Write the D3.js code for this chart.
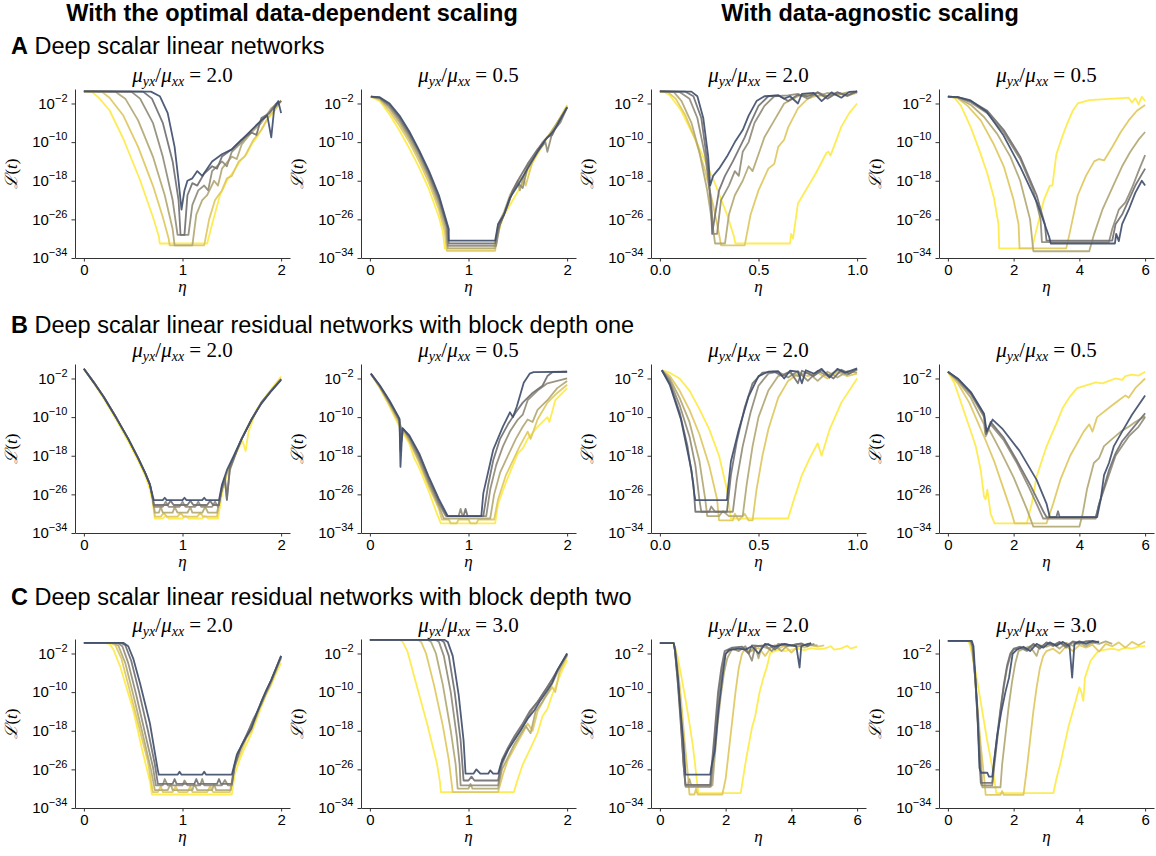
<!DOCTYPE html>
<html>
<head>
<meta charset="utf-8">
<script src="https://cdn.jsdelivr.net/npm/d3@7"></script>
<style>
  body { margin: 0; background: #fff; }
  svg text { font-family: "Liberation Sans", Arial, sans-serif; fill: #000; }
  .math { font-family: "Liberation Serif", "DejaVu Serif", serif; white-space: pre; }
</style>
</head>
<body>
<svg id="fig" width="1156" height="856"></svg>
<script>
// each panel: 6 runs, lightest (yellow) first, darkest last; points are [eta, log10 loss]
const linearOpt2 = [
  [[0,0.5],[0.08,0.45],[0.15,-0.8],[0.26,-3.4],[0.4,-9.3],[0.57,-17.9],[0.7,-25.5],[0.76,-29.5],[0.77,-31],[1.25,-31],[1.3,-27],[1.38,-21],[1.45,-18],[1.52,-16],[1.6,-13.5],[1.65,-12.5],[1.7,-10.5],[1.77,-8.5],[1.85,-5.5],[1.92,-4],[2,-1.3]],
  [[0,0.5],[0.18,0.45],[0.26,-0.8],[0.4,-4.5],[0.55,-11],[0.7,-19],[0.8,-25.5],[0.86,-30],[0.87,-31.4],[1.22,-31.4],[1.27,-26],[1.33,-22],[1.4,-20],[1.45,-17.5],[1.5,-17],[1.57,-14],[1.63,-13],[1.72,-9.5],[1.8,-7.5],[1.88,-4.5],[1.95,-3],[2,-1.5]],
  [[0,0.5],[0.32,0.45],[0.42,-1],[0.55,-5.5],[0.7,-13],[0.82,-21],[0.9,-28],[0.92,-31.4],[1.1,-31.4],[1.14,-25],[1.2,-22],[1.25,-21],[1.32,-18],[1.36,-19],[1.4,-15.5],[1.5,-13],[1.55,-13.5],[1.6,-10.5],[1.7,-8],[1.8,-6],[1.9,-3],[2,-1.5]],
  [[0,0.5],[0.48,0.45],[0.57,-1],[0.7,-6],[0.8,-13],[0.9,-22],[0.95,-29.2],[1.06,-29.2],[1.1,-23],[1.16,-20],[1.22,-19],[1.26,-20],[1.3,-16],[1.4,-14],[1.45,-15],[1.5,-12],[1.6,-10],[1.7,-7.5],[1.8,-5.5],[1.9,-3.5],[2,-1.5]],
  [[0,0.5],[0.6,0.45],[0.69,-1],[0.8,-6],[0.9,-14],[0.96,-22],[0.98,-29.2],[1.02,-29.2],[1.05,-21],[1.1,-18.5],[1.15,-19],[1.22,-16.5],[1.3,-15],[1.35,-15.5],[1.4,-13],[1.5,-11.5],[1.6,-9.5],[1.7,-8],[1.75,-8.5],[1.8,-5],[1.88,-4],[1.95,-2],[2,-1.5]],
  [[0,0.5],[0.68,0.45],[0.77,-0.5],[0.85,-4],[0.92,-11],[0.96,-18],[0.99,-24],[1.02,-20],[1.05,-18],[1.1,-17.5],[1.15,-16],[1.2,-17],[1.3,-14],[1.4,-12.5],[1.5,-11.5],[1.6,-9.5],[1.7,-7.5],[1.8,-5.5],[1.86,-4.5],[1.9,-9],[1.93,-3],[1.97,-1.5],[2,-4]]
];

const linearOpt05 = [
  [[0.01,-0.6],[0.1,-1.5],[0.2,-4.3],[0.3,-7.6],[0.4,-11.3],[0.5,-15.3],[0.6,-19.8],[0.7,-25.5],[0.74,-28.5],[0.76,-32],[1.25,-32],[1.3,-29],[1.35,-25.5],[1.45,-22],[1.55,-18.5],[1.6,-16],[1.7,-12.5],[1.8,-9],[1.9,-6],[2,-2.3]],
  [[0.01,-0.6],[0.1,-1.2],[0.2,-3.6],[0.3,-6.6],[0.4,-10],[0.5,-14],[0.6,-18.5],[0.7,-24],[0.76,-28.5],[0.78,-32.5],[1.27,-32.5],[1.3,-28],[1.38,-24],[1.45,-20],[1.55,-17],[1.58,-19],[1.65,-14],[1.75,-10.5],[1.85,-7.5],[1.93,-5],[2,-2.5]],
  [[0.01,-0.6],[0.1,-1],[0.2,-3],[0.3,-5.9],[0.4,-9.3],[0.5,-13.2],[0.6,-17.6],[0.7,-23],[0.77,-28],[0.79,-32],[1.27,-32],[1.3,-27],[1.36,-24.5],[1.42,-21],[1.5,-18],[1.52,-20],[1.58,-15.5],[1.65,-13.5],[1.75,-10],[1.82,-8.5],[1.9,-6],[2,-2.7]],
  [[0.01,-0.6],[0.1,-0.9],[0.2,-2.6],[0.3,-5.3],[0.4,-8.7],[0.5,-12.5],[0.6,-17],[0.7,-22.2],[0.78,-27.5],[0.79,-31.5],[1.28,-31.5],[1.32,-27],[1.4,-23],[1.45,-20],[1.5,-18.5],[1.55,-19.5],[1.6,-15],[1.7,-12],[1.78,-10],[1.8,-12],[1.85,-8],[1.93,-6],[2,-2.8]],
  [[0.01,-0.6],[0.1,-0.8],[0.2,-2.3],[0.3,-4.9],[0.4,-8.2],[0.5,-12],[0.6,-16.5],[0.7,-21.6],[0.79,-28],[0.8,-31],[1.27,-31],[1.3,-28],[1.36,-25],[1.45,-20],[1.5,-18],[1.6,-14.5],[1.7,-11.5],[1.8,-9],[1.85,-8.5],[1.92,-5.5],[2,-2.8]],
  [[0.01,-0.6],[0.1,-0.7],[0.2,-2],[0.3,-4.5],[0.4,-7.8],[0.5,-11.7],[0.6,-16],[0.7,-21],[0.8,-28],[0.8,-30.4],[1.27,-30.4],[1.3,-27],[1.36,-25],[1.42,-21.5],[1.5,-19],[1.6,-15.5],[1.7,-12],[1.78,-9.5],[1.85,-8],[1.9,-6.5],[2,-2.8]]
];

const linearAgn2 = [
  [[0,0.5],[0.02,0.45],[0.05,-0.3],[0.107,-3.4],[0.19,-10.3],[0.28,-18.6],[0.345,-25.5],[0.375,-29.5],[0.383,-31],[0.66,-31],[0.665,-29],[0.675,-30],[0.7,-22.7],[0.79,-16.5],[0.845,-12.2],[0.855,-12],[0.865,-12.8],[0.92,-6.8],[0.96,-4],[1,-2]],
  [[0,0.5],[0.04,0.4],[0.08,-1],[0.13,-4.5],[0.18,-9.5],[0.23,-16],[0.27,-23],[0.3,-29],[0.31,-31.4],[0.43,-31.4],[0.46,-25],[0.5,-20],[0.55,-15.5],[0.58,-14.5],[0.6,-11],[0.63,-9.5],[0.65,-7],[0.7,-3],[0.75,-1],[0.8,-0.3],[0.85,-0.5],[0.9,0],[0.95,-0.3],[1,0.2]],
  [[0,0.5],[0.07,0.4],[0.11,-1.5],[0.16,-6],[0.2,-12],[0.24,-20],[0.27,-28],[0.28,-31],[0.33,-31],[0.35,-25],[0.38,-21],[0.42,-18],[0.45,-15],[0.47,-16],[0.5,-12.5],[0.53,-9],[0.58,-5.5],[0.63,-2],[0.7,-0.5],[0.75,0],[0.8,-0.5],[0.85,0.2],[0.9,-0.2],[0.95,0.3],[1,0.3]],
  [[0,0.5],[0.1,0.4],[0.15,-1],[0.19,-5],[0.23,-13],[0.26,-22],[0.27,-29],[0.29,-29],[0.31,-22],[0.35,-19],[0.38,-16],[0.4,-17],[0.42,-12],[0.45,-10],[0.48,-6],[0.53,-2.5],[0.58,-0.5],[0.65,-0.3],[0.7,0],[0.75,-1],[0.8,0.3],[0.85,-0.5],[0.9,0.3],[0.95,-0.5],[1,0.5]],
  [[0,0.5],[0.13,0.45],[0.17,-0.5],[0.21,-5],[0.24,-14],[0.26,-24],[0.265,-29],[0.28,-25],[0.3,-20],[0.33,-17],[0.37,-14],[0.4,-11.5],[0.43,-9],[0.46,-6],[0.5,-2.5],[0.55,-0.5],[0.6,-0.3],[0.65,-1.5],[0.7,-0.2],[0.75,-0.5],[0.8,0.3],[0.85,-1],[0.9,0.3],[0.95,-0.3],[1,0.5]],
  [[0,0.5],[0.16,0.45],[0.19,-0.5],[0.22,-5],[0.245,-13],[0.255,-19],[0.27,-17],[0.3,-15.5],[0.34,-13],[0.38,-10],[0.42,-7.5],[0.45,-4.5],[0.49,-1.5],[0.53,-0.5],[0.6,-0.3],[0.63,-1],[0.66,-0.5],[0.7,-2],[0.72,0],[0.78,0.2],[0.82,-1.5],[0.87,0.3],[0.92,-0.8],[0.96,0.4],[1,0.5]]
];

const linearAgn05 = [
  [[0,-0.6],[0.2,-0.8],[0.4,-2.5],[0.7,-7],[1,-12.5],[1.2,-16.5],[1.4,-21.5],[1.54,-27],[1.56,-32],[2.56,-32],[2.7,-28],[2.92,-22],[3.1,-19],[3.18,-19],[3.3,-12.5],[3.5,-8.5],[3.64,-6],[3.8,-3.5],[3.95,-2],[4.3,-1.3],[4.8,-1.1],[5.3,-0.9],[5.5,-0.8],[5.6,-1.8],[5.7,-0.9],[5.8,-2.2],[5.9,-0.6],[6,-1.5]],
  [[0,-0.6],[0.3,-0.9],[0.6,-2.5],[1,-5.5],[1.4,-10.5],[1.7,-15],[2,-22],[2.15,-27],[2.18,-32],[3.6,-32],[3.7,-29],[3.95,-21],[4.2,-17],[4.45,-14],[4.6,-13.5],[4.75,-13.8],[5,-11],[5.25,-8],[5.5,-5.5],[5.75,-3.5],[6,-2.3]],
  [[0,-0.6],[0.3,-0.8],[0.7,-2.3],[1.1,-4.8],[1.5,-8.3],[1.9,-13],[2.2,-18],[2.5,-26],[2.6,-32.6],[4.3,-32.6],[4.45,-29],[4.7,-24],[4.9,-21],[5.1,-18],[5.3,-15],[5.55,-12],[5.8,-9.5],[6,-7.9]],
  [[0,-0.6],[0.3,-0.7],[0.7,-1.8],[1.2,-4],[1.7,-8],[2.2,-13.5],[2.6,-20],[2.82,-26],[2.86,-30.7],[4.9,-30.7],[5,-28],[5.2,-24],[5.4,-22.5],[5.6,-19.5],[5.8,-16],[6,-12.7]],
  [[0,-0.6],[0.3,-0.7],[0.7,-1.5],[1.2,-3.5],[1.7,-7.5],[2.2,-13],[2.7,-21],[2.95,-27],[3,-30.4],[5,-30.4],[5.1,-27],[5.3,-25],[5.5,-22],[5.7,-19],[6,-15.5]],
  [[0,-0.6],[0.3,-0.7],[0.67,-1.3],[1.18,-3.7],[1.69,-8.6],[2.2,-15.1],[2.72,-22.7],[3.08,-29.6],[3.13,-31],[5.08,-31],[5.12,-29],[5.2,-30.5],[5.3,-27],[5.5,-24],[5.7,-20.5],[5.9,-18],[6,-19]]
];

const res1Opt2 = [
  [[0,0],[0.1,-3],[0.2,-6.1],[0.33,-10.6],[0.45,-15],[0.55,-19],[0.62,-22],[0.67,-25],[0.7,-28],[0.72,-31],[0.8,-31],[0.83,-30.4],[0.86,-31],[1,-31],[1.03,-30.4],[1.06,-31],[1.2,-31],[1.23,-30.4],[1.26,-31],[1.36,-31],[1.4,-26],[1.45,-22],[1.52,-18.5],[1.58,-16],[1.61,-15],[1.64,-17],[1.67,-13],[1.75,-8.5],[1.85,-5.5],[2,-1.6]],
  [[0,0],[0.1,-2.8],[0.2,-5.8],[0.33,-10.2],[0.45,-14.5],[0.55,-18.5],[0.62,-21.5],[0.67,-24],[0.7,-27],[0.72,-30.6],[0.78,-30.6],[0.81,-29.8],[0.84,-30.6],[0.95,-30.6],[0.98,-29.8],[1.01,-30.6],[1.15,-30.6],[1.18,-29.8],[1.21,-30.6],[1.35,-30.6],[1.39,-25.5],[1.45,-21.5],[1.52,-18.3],[1.6,-14.5],[1.7,-10.5],[1.8,-7],[1.9,-4.5],[2,-2]],
  [[0,0],[0.1,-2.8],[0.2,-5.8],[0.33,-10.2],[0.45,-14.5],[0.55,-18.5],[0.62,-21.5],[0.67,-24],[0.7,-27],[0.72,-29.8],[0.76,-29.8],[0.78,-28.6],[0.8,-29.8],[0.9,-29.8],[0.92,-28.6],[0.95,-29.8],[1.05,-29.8],[1.08,-28.6],[1.1,-29.8],[1.2,-29.8],[1.23,-28.6],[1.26,-29.8],[1.35,-29.8],[1.4,-25],[1.45,-21.5],[1.52,-18.3],[1.6,-14.5],[1.7,-10.5],[1.8,-7],[1.9,-4.5],[2,-2.1]],
  [[0,0],[0.1,-2.8],[0.2,-5.8],[0.33,-10.2],[0.45,-14.5],[0.55,-18.5],[0.62,-21.5],[0.67,-24],[0.7,-27],[0.71,-28.6],[0.8,-28.6],[0.83,-27.5],[0.86,-28.6],[0.97,-28.6],[1,-27.5],[1.03,-28.6],[1.13,-28.6],[1.16,-27.5],[1.19,-28.6],[1.3,-28.6],[1.33,-27.5],[1.36,-28.6],[1.4,-25],[1.43,-23],[1.45,-27],[1.48,-21],[1.55,-17],[1.6,-14.5],[1.7,-10.5],[1.8,-7],[1.9,-4.5],[2,-2.1]],
  [[0,0],[0.1,-2.8],[0.2,-5.8],[0.33,-10.2],[0.45,-14.5],[0.55,-18.5],[0.62,-21.5],[0.67,-24],[0.7,-27],[0.71,-28.2],[0.85,-28.2],[0.88,-27.3],[0.91,-28.2],[1.05,-28.2],[1.08,-27.3],[1.11,-28.2],[1.25,-28.2],[1.28,-27.3],[1.31,-28.2],[1.37,-28.2],[1.4,-24.5],[1.43,-22.5],[1.45,-27.2],[1.48,-20.5],[1.55,-17],[1.6,-14.5],[1.7,-10.5],[1.8,-7],[1.9,-4.5],[2,-2.2]],
  [[0,0],[0.1,-2.8],[0.2,-5.8],[0.33,-10.2],[0.45,-14.5],[0.55,-18.5],[0.62,-21.5],[0.67,-24],[0.7,-26.5],[0.71,-27.2],[0.8,-27.2],[0.82,-26.7],[0.84,-27.2],[1,-27.2],[1.02,-26.7],[1.04,-27.2],[1.2,-27.2],[1.22,-26.7],[1.24,-27.2],[1.37,-27.2],[1.4,-24],[1.45,-21],[1.52,-18],[1.6,-14.5],[1.7,-10.5],[1.8,-7.2],[1.9,-4.6],[2,-2.3]]
];

const res1Opt05 = [
  [[0.01,-1],[0.1,-4],[0.2,-7.8],[0.3,-12],[0.4,-15.5],[0.45,-18.5],[0.5,-20.5],[0.6,-25.5],[0.68,-30],[0.72,-32],[1.27,-32],[1.3,-28],[1.38,-23.5],[1.5,-17.5],[1.55,-16.5],[1.6,-14.5],[1.7,-12],[1.8,-10],[1.82,-11],[1.88,-6.5],[2,-4]],
  [[0.01,-1],[0.1,-3.8],[0.2,-7.5],[0.3,-11.5],[0.34,-13],[0.4,-15],[0.5,-19.5],[0.6,-24.5],[0.7,-29],[0.73,-31.2],[0.8,-31.2],[0.82,-32],[0.88,-32],[0.9,-31.2],[1,-31.2],[1.02,-32],[1.08,-32],[1.1,-31.2],[1.26,-31.2],[1.3,-27],[1.38,-22],[1.45,-19],[1.52,-16],[1.6,-13],[1.63,-14.5],[1.7,-10.5],[1.8,-7],[1.9,-5],[2,-3.3]],
  [[0.01,-1],[0.1,-3.7],[0.2,-7.2],[0.3,-11],[0.33,-13],[0.35,-12.8],[0.4,-14.7],[0.5,-19],[0.6,-24],[0.7,-28.5],[0.75,-31],[1.22,-31],[1.26,-26],[1.32,-21.5],[1.4,-18],[1.48,-14.5],[1.55,-12],[1.6,-10.5],[1.65,-11],[1.7,-8.5],[1.8,-6.5],[1.9,-4],[2,-2.5]],
  [[0.01,-1],[0.1,-3.6],[0.2,-7],[0.3,-10.8],[0.32,-15],[0.34,-12.5],[0.4,-14.3],[0.5,-18.5],[0.6,-23.5],[0.7,-28],[0.77,-30.5],[0.9,-30.5],[0.92,-29],[0.94,-30.5],[1.18,-30.5],[1.22,-25],[1.28,-20],[1.35,-16],[1.42,-13],[1.5,-10.5],[1.55,-9.5],[1.6,-6.5],[1.7,-4.5],[1.8,-3],[1.9,-2.5],[2,-2]],
  [[0.01,-1],[0.1,-3.5],[0.2,-6.8],[0.3,-10.5],[0.31,-17],[0.33,-12.3],[0.4,-14],[0.5,-18],[0.6,-23],[0.7,-27.5],[0.78,-30.5],[0.95,-30.5],[0.97,-29],[0.99,-30.5],[1.15,-30.5],[1.2,-24],[1.25,-19],[1.32,-14.5],[1.4,-11.5],[1.48,-9],[1.55,-7],[1.65,-5],[1.75,-3.5],[1.8,-1.5],[1.85,-0.7],[2,-0.6]],
  [[0.01,-1],[0.1,-3.4],[0.2,-6.6],[0.3,-10.3],[0.31,-20.3],[0.33,-12.3],[0.4,-13.8],[0.5,-17.5],[0.6,-22.5],[0.7,-27],[0.79,-30.5],[1.13,-30.5],[1.15,-25.8],[1.25,-16.8],[1.35,-11.9],[1.42,-9],[1.45,-10],[1.49,-7.8],[1.56,-2.9],[1.62,-1],[1.66,-0.7],[2,-0.6]]
];

const res1Agn2 = [
  [[0.01,-0.3],[0.05,-0.8],[0.1,-2],[0.15,-4.5],[0.2,-8.3],[0.25,-12.5],[0.3,-18],[0.34,-25],[0.36,-31],[0.65,-31],[0.68,-27],[0.72,-22],[0.76,-18.5],[0.8,-15.4],[0.82,-18],[0.86,-12.6],[0.92,-7],[1,-2]],
  [[0.01,-0.3],[0.05,-1.5],[0.1,-4.5],[0.15,-8.5],[0.2,-13.5],[0.25,-20],[0.29,-27],[0.3,-31.4],[0.37,-31.4],[0.38,-30],[0.4,-31.4],[0.43,-30],[0.45,-31.4],[0.47,-31.4],[0.49,-25],[0.52,-18],[0.55,-12.5],[0.6,-6],[0.65,-2.5],[0.7,-1],[0.75,-1.5],[0.8,-0.8],[0.85,-2],[0.9,-0.7],[0.95,-1.5],[1,-1]],
  [[0.01,-0.3],[0.05,-2],[0.1,-6],[0.15,-11],[0.2,-19],[0.23,-27],[0.24,-30.5],[0.3,-30.5],[0.32,-29.5],[0.35,-30.5],[0.42,-30.5],[0.44,-24],[0.47,-16],[0.5,-10],[0.55,-4.5],[0.6,-1.5],[0.65,-0.8],[0.7,-1.5],[0.75,-0.7],[0.8,-2.5],[0.85,-0.6],[0.9,-1.8],[0.95,-0.5],[1,-0.8]],
  [[0.01,-0.3],[0.05,-2.5],[0.1,-7.5],[0.15,-14],[0.18,-20],[0.2,-27],[0.21,-29.6],[0.25,-29.6],[0.26,-28.5],[0.28,-29.6],[0.37,-29.6],[0.39,-23],[0.42,-16],[0.46,-9],[0.5,-3.5],[0.55,-1],[0.6,-0.6],[0.65,-1.8],[0.7,-0.5],[0.75,-2.5],[0.8,-0.4],[0.85,-1.5],[0.9,-0.3],[0.95,-1.2],[1,-0.2]],
  [[0.01,-0.3],[0.05,-3],[0.1,-9],[0.14,-16],[0.17,-24],[0.18,-29.6],[0.34,-29.6],[0.36,-22],[0.39,-15],[0.43,-8],[0.47,-3],[0.52,-0.8],[0.58,-0.6],[0.62,-1.5],[0.66,-0.5],[0.7,-3],[0.72,-0.4],[0.78,-1.5],[0.82,-0.3],[0.88,-2],[0.92,-0.2],[0.96,-1],[1,0]],
  [[0.01,-0.3],[0.05,-3.3],[0.107,-10.5],[0.16,-21],[0.175,-26],[0.18,-27.2],[0.34,-27.2],[0.345,-25],[0.36,-19.2],[0.4,-12.6],[0.45,-5.7],[0.5,-1.5],[0.55,-0.6],[0.6,-0.5],[0.63,-2],[0.66,-0.4],[0.7,-0.6],[0.72,-3],[0.74,-0.3],[0.78,-1],[0.82,0],[0.86,-1.8],[0.9,0],[0.94,-0.8],[1,0.1]]
];

const res1Agn05 = [
  [[0,-0.6],[0.2,-3],[0.44,-7.8],[0.65,-12],[0.85,-16.1],[1,-21],[1.1,-26.5],[1.15,-27],[1.2,-25],[1.3,-30],[1.42,-32],[2.4,-32],[2.55,-28],[2.7,-22.3],[3,-16.1],[3.1,-14.5],[3.31,-11.2],[3.5,-8],[3.72,-5.7],[3.93,-4],[4.13,-3.6],[4.5,-2.8],[4.7,-3],[4.9,-2.5],[5.1,-2],[5.3,-2.3],[5.4,-1.5],[5.6,-1.2],[5.8,-1.4],[6,-0.6]],
  [[0,-0.6],[0.3,-3],[0.65,-7],[1.16,-15],[1.4,-19],[1.67,-24.4],[1.9,-29],[2.03,-32],[3,-32],[3.2,-28],[3.42,-23],[3.72,-18],[4.13,-13],[4.3,-11.5],[4.4,-13],[4.54,-10],[4.95,-7.8],[5.2,-6.5],[5.4,-5.5],[5.5,-6],[5.7,-4],[6,-2]],
  [[0,-0.6],[0.3,-2.5],[0.7,-6],[1.1,-11.5],[1.15,-14],[1.25,-12.5],[1.6,-17],[2,-22.5],[2.4,-29],[2.6,-32.7],[4,-32.7],[4.1,-30],[4.23,-25],[4.44,-19.5],[4.6,-18.5],[4.75,-16],[5,-14.5],[5.26,-13],[5.5,-12],[5.7,-11],[6,-9.8]],
  [[0,-0.6],[0.3,-2.3],[0.7,-5.3],[1.1,-10],[1.15,-13.5],[1.3,-11.5],[1.7,-14.8],[2.1,-19.5],[2.5,-25],[2.8,-29.5],[2.9,-31],[4.5,-31],[4.6,-28],[4.75,-25],[4.9,-22],[5.1,-18],[5.3,-16],[5.5,-14],[5.8,-12],[6,-10]],
  [[0,-0.6],[0.3,-2.1],[0.7,-5],[1.1,-9.5],[1.17,-13.5],[1.3,-11],[1.7,-14.3],[2.1,-19],[2.5,-24],[2.9,-29.5],[3,-30.7],[3.3,-30.7],[3.35,-29.5],[3.4,-30.7],[4.5,-30.7],[4.6,-28],[4.75,-24.5],[4.9,-21],[5.1,-17.5],[5.3,-15],[5.6,-12.5],[6,-9.2]],
  [[0,-0.6],[0.3,-2],[0.7,-4.8],[1.1,-9.3],[1.18,-13],[1.36,-10.5],[1.67,-12.5],[2.18,-17],[2.7,-23],[3,-27.9],[3.1,-30.7],[4.54,-30.7],[4.65,-27],[4.75,-22],[4.9,-19.5],[5.05,-16],[5.3,-13],[5.6,-9.5],[6,-5.5]]
];

const res2Opt2 = [
  [[0,0.2],[0.2,0.2],[0.26,0],[0.3,-1.2],[0.37,-4.8],[0.5,-13.7],[0.6,-22.7],[0.67,-28.5],[0.69,-31.2],[1.5,-31.2],[1.53,-27],[1.58,-24],[1.62,-22],[1.7,-18.5],[1.8,-13],[1.85,-10.5],[1.9,-8.5],[1.95,-6],[2,-4]],
  [[0,0.2],[0.27,0.2],[0.32,-0.3],[0.38,-3],[0.45,-8.5],[0.55,-16.5],[0.65,-24.5],[0.7,-30.7],[0.75,-30.7],[0.78,-29.5],[0.8,-30.7],[0.9,-30.7],[0.93,-29.5],[0.96,-30.7],[1.05,-30.7],[1.08,-29.5],[1.1,-30.7],[1.25,-30.7],[1.28,-29.5],[1.31,-30.7],[1.48,-30.7],[1.52,-26],[1.58,-23],[1.65,-19.5],[1.7,-18],[1.78,-13.5],[1.85,-10],[1.92,-6.5],[2,-3]],
  [[0,0.2],[0.3,0.2],[0.35,-0.4],[0.42,-4],[0.5,-10.5],[0.6,-19],[0.68,-26],[0.72,-30.3],[0.85,-30.3],[0.88,-29],[0.9,-30.3],[1.1,-30.3],[1.12,-29],[1.15,-30.3],[1.3,-30.3],[1.32,-29],[1.34,-30.3],[1.49,-30.3],[1.52,-26],[1.56,-22.5],[1.62,-20.5],[1.7,-17],[1.75,-15],[1.8,-12],[1.88,-9],[1.95,-5.5],[2,-2.8]],
  [[0,0.2],[0.34,0.2],[0.39,-0.5],[0.45,-4],[0.53,-10.5],[0.62,-18.5],[0.7,-25.5],[0.73,-29.3],[0.8,-29.3],[0.82,-28],[0.85,-29.3],[1,-29.3],[1.02,-28.3],[1.05,-29.3],[1.18,-29.3],[1.2,-28],[1.22,-29.3],[1.4,-29.3],[1.43,-28.2],[1.46,-29.3],[1.5,-29.3],[1.53,-25.5],[1.58,-22],[1.65,-19],[1.72,-15.5],[1.8,-12.5],[1.88,-8.5],[1.95,-5],[2,-2.6]],
  [[0,0.2],[0.38,0.2],[0.42,-0.3],[0.48,-3.5],[0.56,-10],[0.65,-18],[0.72,-25],[0.75,-29],[0.9,-29],[0.92,-28],[0.94,-29],[1.12,-29],[1.14,-28],[1.16,-29],[1.35,-29],[1.37,-28],[1.39,-29],[1.5,-29],[1.53,-25],[1.6,-21],[1.67,-18],[1.75,-14.5],[1.82,-11],[1.9,-7.5],[2,-2.5]],
  [[0,0.2],[0.4,0.2],[0.45,-0.5],[0.5,-3],[0.57,-8.2],[0.67,-16.5],[0.75,-26.2],[0.76,-27.1],[0.95,-27.1],[0.97,-26.5],[0.99,-27.1],[1.2,-27.1],[1.22,-26.5],[1.24,-27.1],[1.5,-27.1],[1.52,-25.5],[1.55,-23],[1.6,-21],[1.64,-19.5],[1.7,-17.5],[1.75,-14.5],[1.8,-12],[1.85,-9.6],[1.9,-7.5],[1.95,-5],[2,-2.5]]
];

const res2Opt3 = [
  [[0,0.8],[0.3,0.8],[0.33,0.5],[0.38,-1.5],[0.45,-6.8],[0.58,-16.5],[0.68,-24.8],[0.71,-28.5],[0.72,-30.7],[1.46,-30.7],[1.5,-28],[1.55,-25],[1.62,-22],[1.7,-18.5],[1.75,-15],[1.8,-13.5],[1.85,-10.5],[1.9,-8],[1.95,-5.5],[2,-3.4]],
  [[0,0.8],[0.49,0.8],[0.52,0.4],[0.57,-2],[0.65,-8.5],[0.74,-17],[0.8,-24],[0.84,-30.7],[1.3,-30.7],[1.35,-27],[1.4,-24],[1.48,-21],[1.55,-18.5],[1.6,-16.5],[1.65,-18],[1.7,-14],[1.78,-11],[1.85,-9],[1.88,-10],[1.92,-6],[2,-2.5]],
  [[0,0.8],[0.59,0.8],[0.62,0.4],[0.67,-2],[0.74,-8.5],[0.82,-18],[0.87,-25],[0.89,-30],[1,-30],[1.02,-29],[1.04,-30],[1.3,-30],[1.34,-26],[1.4,-23.5],[1.46,-21],[1.52,-19],[1.58,-17],[1.63,-18.5],[1.68,-14],[1.75,-12],[1.82,-9.5],[1.9,-6],[2,-2.3]],
  [[0,0.8],[0.67,0.8],[0.7,0.4],[0.75,-2.5],[0.82,-10],[0.88,-19],[0.91,-25],[0.92,-29.3],[1.3,-29.3],[1.34,-25],[1.4,-22],[1.45,-20],[1.52,-18],[1.58,-16],[1.65,-13.5],[1.72,-11.5],[1.8,-9],[1.9,-5.5],[2,-2.2]],
  [[0,0.8],[0.72,0.8],[0.75,0.4],[0.8,-2.5],[0.86,-10],[0.92,-20],[0.95,-28.3],[1,-28.3],[1.03,-27.5],[1.06,-28.3],[1.3,-28.3],[1.34,-24],[1.4,-21.5],[1.47,-19],[1.55,-16.5],[1.62,-14],[1.7,-12],[1.78,-9.5],[1.86,-7],[1.93,-4.5],[2,-2]],
  [[0,0.8],[0.76,0.8],[0.79,0.4],[0.84,-2.5],[0.9,-10.5],[0.95,-20],[0.97,-26.9],[1.05,-26.9],[1.08,-26],[1.12,-26.9],[1.2,-26.9],[1.22,-26.2],[1.25,-26.9],[1.3,-26.9],[1.33,-24.8],[1.4,-22],[1.53,-17.9],[1.6,-15.5],[1.67,-13.7],[1.72,-12],[1.8,-9.6],[1.85,-8],[1.9,-5.5],[2,-2]]
];

const res2Agn2 = [
  [[0,0.15],[0.4,0.15],[0.45,-0.5],[0.55,-3],[0.66,-7],[0.78,-11.5],[0.89,-16],[1,-21],[1.06,-24.3],[1.12,-28],[1.17,-30.9],[2.46,-30.9],[2.55,-27],[2.63,-23.6],[2.8,-17.4],[2.9,-15],[3.02,-10.4],[3.15,-7],[3.25,-4.9],[3.36,-1.8],[3.6,-1.3],[3.8,-1.5],[4,-1.2],[4.2,-1],[4.4,-1.3],[4.6,-0.9],[4.8,-1.1],[5,-1],[5.2,-0.5],[5.3,-1.2],[5.5,-1],[5.7,-0.4],[5.8,-1],[6,-0.6]],
  [[0,0.15],[0.42,0.15],[0.47,-1],[0.55,-5],[0.65,-12],[0.75,-20],[0.85,-27],[0.9,-31.2],[1.05,-31.2],[1.1,-30],[1.15,-31.2],[1.9,-31.2],[2,-28],[2.1,-22],[2.2,-16],[2.3,-10],[2.4,-5],[2.5,-2],[2.6,-1],[2.8,-1.5],[3,-0.8],[3.2,-2.5],[3.4,-0.6],[3.6,-1],[3.8,-0.4],[4,-1.8],[4.2,-0.5],[4.4,-0.8],[4.6,-0.3],[4.8,-0.6],[5,-0.3]],
  [[0,0.15],[0.42,0.15],[0.47,-1.5],[0.55,-7],[0.65,-16],[0.72,-24],[0.78,-29.3],[0.85,-29.3],[0.9,-28],[0.95,-29.3],[1.6,-29.3],[1.65,-25],[1.75,-17],[1.85,-11],[1.95,-6],[2.05,-3],[2.2,-1],[2.5,-0.8],[2.7,-2],[2.9,-0.5],[3,-3],[3.1,-0.5],[3.3,-1],[3.5,-0.3],[3.7,-1.5],[3.9,-0.2],[4.2,-0.5],[4.5,-0.2],[4.8,-0.3]],
  [[0,0.15],[0.42,0.15],[0.46,-1.5],[0.55,-8],[0.65,-17],[0.72,-25],[0.78,-29.6],[1.55,-29.6],[1.6,-26],[1.7,-17],[1.8,-10],[1.9,-5],[2,-2],[2.2,-1],[2.4,-1.5],[2.6,-0.5],[2.8,-3.5],[2.9,-0.5],[3.2,-0.3],[3.4,-1.5],[3.6,0],[3.9,-0.5],[4.2,0],[4.5,-0.4],[4.7,0]],
  [[0,0.15],[0.42,0.15],[0.46,-1.5],[0.55,-8.5],[0.65,-18],[0.72,-25],[0.78,-29.2],[1.53,-29.2],[1.58,-25],[1.67,-18],[1.77,-10],[1.87,-5],[1.97,-1.5],[2.2,-0.8],[2.5,-0.6],[2.7,-2],[2.8,-0.3],[3.1,-0.5],[3.3,0],[3.5,-1.2],[3.7,0],[4,-0.3],[4.3,0.1],[4.5,-0.5],[4.6,0.2]],
  [[0,0.15],[0.42,0.15],[0.46,-1.2],[0.55,-7],[0.63,-14],[0.72,-20.7],[0.78,-27.1],[1.53,-27.1],[1.58,-25],[1.67,-22.2],[1.78,-13.9],[1.9,-7],[2,-2.1],[2.1,-1.3],[2.4,-1],[2.6,-1.2],[2.8,-0.5],[3,-2],[3.2,0],[3.5,-0.6],[3.8,0],[4,-0.3],[4.15,-0.5],[4.25,-4.9],[4.3,-0.5],[4.5,0],[4.6,0.1]]
];

const res2Agn3 = [
  [[0,0.6],[0.6,0.6],[0.66,0],[0.75,-2.5],[0.85,-6],[0.96,-10.4],[1.18,-19.4],[1.41,-27.8],[1.47,-30.9],[3.21,-30.9],[3.3,-28],[3.44,-24.3],[3.66,-17.4],[3.89,-11.8],[4,-9],[4.06,-10],[4.12,-11.8],[4.17,-7],[4.34,-3.5],[4.57,-1.5],[4.8,-1.2],[5,-1],[5.2,-1.3],[5.4,-0.8],[5.6,-1],[5.8,-0.6],[6,-0.5]],
  [[0,0.6],[0.65,0.6],[0.72,-0.5],[0.8,-5],[0.9,-13],[1,-21],[1.1,-27.5],[1.15,-31.3],[1.6,-31.3],[1.65,-30.5],[1.7,-31.3],[2.3,-31.3],[2.4,-26],[2.5,-20],[2.6,-14],[2.7,-9],[2.8,-5],[2.9,-2.5],[3,-1.5],[3.2,-1],[3.4,-2],[3.6,-0.5],[3.8,-1.5],[4,-0.3],[4.2,-0.8],[4.4,-0.2],[4.6,-1.6],[4.8,0],[5,-0.5],[5.2,0.3],[5.4,-0.8],[5.6,0.4],[5.8,-0.3],[6,0.5]],
  [[0,0.6],[0.68,0.6],[0.74,-0.5],[0.82,-6],[0.92,-16],[1,-24],[1.05,-29.7],[1.6,-29.7],[1.65,-25],[1.75,-19],[1.85,-13],[1.95,-8],[2.05,-4],[2.15,-1.5],[2.3,-1],[2.5,-0.5],[2.7,-2.5],[2.8,-0.3],[3,-0.6],[3.2,0],[3.4,-1],[3.6,0.2],[3.8,-0.4],[4,0.3],[4.2,-0.5],[4.4,0.3],[4.6,0],[4.8,0.5],[5,0]],
  [[0,0.6],[0.7,0.6],[0.75,-0.5],[0.83,-7],[0.92,-17],[0.98,-25],[1.02,-29.3],[1.35,-29.3],[1.4,-26],[1.5,-20],[1.6,-14],[1.7,-9],[1.8,-5],[1.9,-2.5],[2,-1.2],[2.2,-0.8],[2.4,-1.5],[2.6,-0.2],[2.8,-0.8],[3,0.2],[3.2,-0.5],[3.4,0.3],[3.6,-0.8],[3.8,0.3],[4,0],[4.2,0.5],[4.4,0.2],[4.6,0.5]],
  [[0,0.6],[0.71,0.6],[0.76,-0.5],[0.84,-8],[0.92,-18],[0.98,-26],[1,-28.8],[1.35,-28.8],[1.4,-25],[1.5,-19],[1.6,-13.5],[1.7,-8.5],[1.8,-4.5],[1.9,-2],[2,-1],[2.2,-0.6],[2.4,-1.2],[2.6,0],[2.8,-1],[3,0.3],[3.2,-0.3],[3.4,0.4],[3.6,-0.5],[3.8,0.5],[4,0.2],[4.3,0.6],[4.5,0.3]],
  [[0,0.6],[0.73,0.6],[0.78,-0.5],[0.9,-13.9],[0.96,-25.7],[1.01,-26.7],[1.2,-26.7],[1.25,-27.5],[1.35,-27.5],[1.41,-24],[1.5,-19],[1.63,-13.9],[1.75,-10],[1.86,-7],[1.97,-2.1],[2.1,-1.2],[2.3,-0.6],[2.5,-1.5],[2.7,0],[2.9,-0.8],[3.1,0.3],[3.3,-0.4],[3.5,0.4],[3.7,-0.5],[3.78,-7],[3.85,0],[4,0.5],[4.2,0],[4.4,0.6],[4.6,0.3]]
];

const columnHeaders = ["With the optimal data-dependent scaling", "With data-agnostic scaling"];
const rowLabels = [
  ["A", "Deep scalar linear networks"],
  ["B", "Deep scalar linear residual networks with block depth one"],
  ["C", "Deep scalar linear residual networks with block depth two"]
];
const ratioLabels = [
  ["2.0", "0.5", "2.0", "0.5"],
  ["2.0", "0.5", "2.0", "0.5"],
  ["2.0", "3.0", "2.0", "3.0"]
];
const etaMax = [
  [2, 2, 1, 6],
  [2, 2, 1, 6],
  [2, 2, 6, 6]
];
const panelData = [
  [linearOpt2, linearOpt05, linearAgn2, linearAgn05],
  [res1Opt2, res1Opt05, res1Agn2, res1Agn05],
  [res2Opt2, res2Opt3, res2Agn2, res2Agn3]
];
const lossTicks = [1e-34, 1e-26, 1e-18, 1e-10, 1e-2];
const etaTicks = { 1: [0, 0.5, 1], 2: [0, 1, 2], 6: [0, 2, 4, 6] };
const runShade = [1.0, 0.86, 0.72, 0.58, 0.44, 0.26];

// layout
const colLeft = [75, 361, 651, 939];
const rowTop = [89, 364, 639];
const plotW = 215;
const plotH = 169;
const tickFont = "Liberation Sans, Arial, sans-serif";

const svg = d3.select("#fig");

svg.append("text").attr("x", 292).attr("y", 21).attr("text-anchor", "middle")
  .attr("font-size", 23.5).attr("font-weight", "bold").text(columnHeaders[0]);
svg.append("text").attr("x", 870).attr("y", 21).attr("text-anchor", "middle")
  .attr("font-size", 23.5).attr("font-weight", "bold").text(columnHeaders[1]);

const rowLabelY = [54, 333, 605];
rowLabels.forEach((lab, r) => {
  const t = svg.append("text").attr("x", 11).attr("y", rowLabelY[r]).attr("font-size", 23.5)
    .style("white-space", "pre");
  t.append("tspan").attr("font-weight", "bold").text(lab[0]);
  t.append("tspan").text(" " + lab[1]);
});

const y = d3.scaleLog().domain([1e-34, 1e1]).range([plotH, 0]);

function drawPanel(r, c) {
  const xmax = etaMax[r][c];
  const pad = xmax * 0.045;
  const x = d3.scaleLinear().domain([-pad, xmax + pad]).range([0, plotW]);
  const g = svg.append("g").attr("transform", `translate(${colLeft[c]},${rowTop[r]})`);

  const line = d3.line().x(d => x(d[0])).y(d => y(Math.pow(10, d[1])));
  panelData[r][c].forEach((run, i) => {
    g.append("path").datum(run).attr("d", line).attr("fill", "none")
      .attr("stroke", d3.interpolateCividis(runShade[i])).attr("stroke-width", 1.8)
      .attr("stroke-opacity", 0.92).attr("stroke-linejoin", "round");
  });

  const xAxis = g.append("g").attr("transform", `translate(0,${plotH})`)
    .call(d3.axisBottom(x).tickValues(etaTicks[xmax]).tickSize(3.5).tickPadding(3)
      .tickSizeOuter(0).tickFormat(xmax === 1 ? d3.format(".1f") : d3.format("d")));
  xAxis.selectAll("text").attr("font-size", 15).attr("font-family", tickFont).attr("fill", "#111");

  const yAxis = g.append("g")
    .call(d3.axisLeft(y).tickValues(lossTicks).tickSize(3.5).tickPadding(4).tickSizeOuter(0));
  yAxis.selectAll(".tick text").each(function (d) {
    const t = d3.select(this);
    const e = Math.round(Math.log10(d));
    t.text(null).attr("font-size", 15).attr("font-family", tickFont).attr("fill", "#111");
    t.append("tspan").text("10");
    t.append("tspan").attr("font-size", 11).attr("dy", -7).text("\u2212" + Math.abs(e));
  });
  g.selectAll(".domain").attr("stroke", "#333").attr("stroke-width", 1);
  g.selectAll(".tick line").attr("stroke", "#333");

  // axis labels
  g.append("text").attr("class", "math").attr("x", plotW / 2).attr("y", plotH + 34)
    .attr("text-anchor", "middle").attr("font-size", 17).attr("font-style", "italic").text("η");
  const yl = g.append("text").attr("class", "math")
    .attr("transform", `translate(-58,${plotH / 2}) rotate(-90)`)
    .attr("text-anchor", "middle").attr("font-size", 17);
  yl.append("tspan").attr("font-style", "italic").text("ℒ");
  yl.append("tspan").text("(");
  yl.append("tspan").attr("font-style", "italic").text("t");
  yl.append("tspan").text(")");

  // title
  const tt = g.append("text").attr("class", "math").attr("x", plotW / 2).attr("y", -7)
    .attr("text-anchor", "middle").attr("font-size", 21);
  tt.append("tspan").attr("font-style", "italic").text("μ");
  tt.append("tspan").attr("font-style", "italic").attr("font-size", 14).attr("dy", 4).text("yx");
  tt.append("tspan").attr("dy", -4).text("/");
  tt.append("tspan").attr("font-style", "italic").text("μ");
  tt.append("tspan").attr("font-style", "italic").attr("font-size", 14).attr("dy", 4).text("xx");
  tt.append("tspan").attr("dy", -4).text(" = " + ratioLabels[r][c]);
}

for (let r = 0; r < 3; r++) {
  for (let c = 0; c < 4; c++) drawPanel(r, c);
}
</script>
</body>
</html>
